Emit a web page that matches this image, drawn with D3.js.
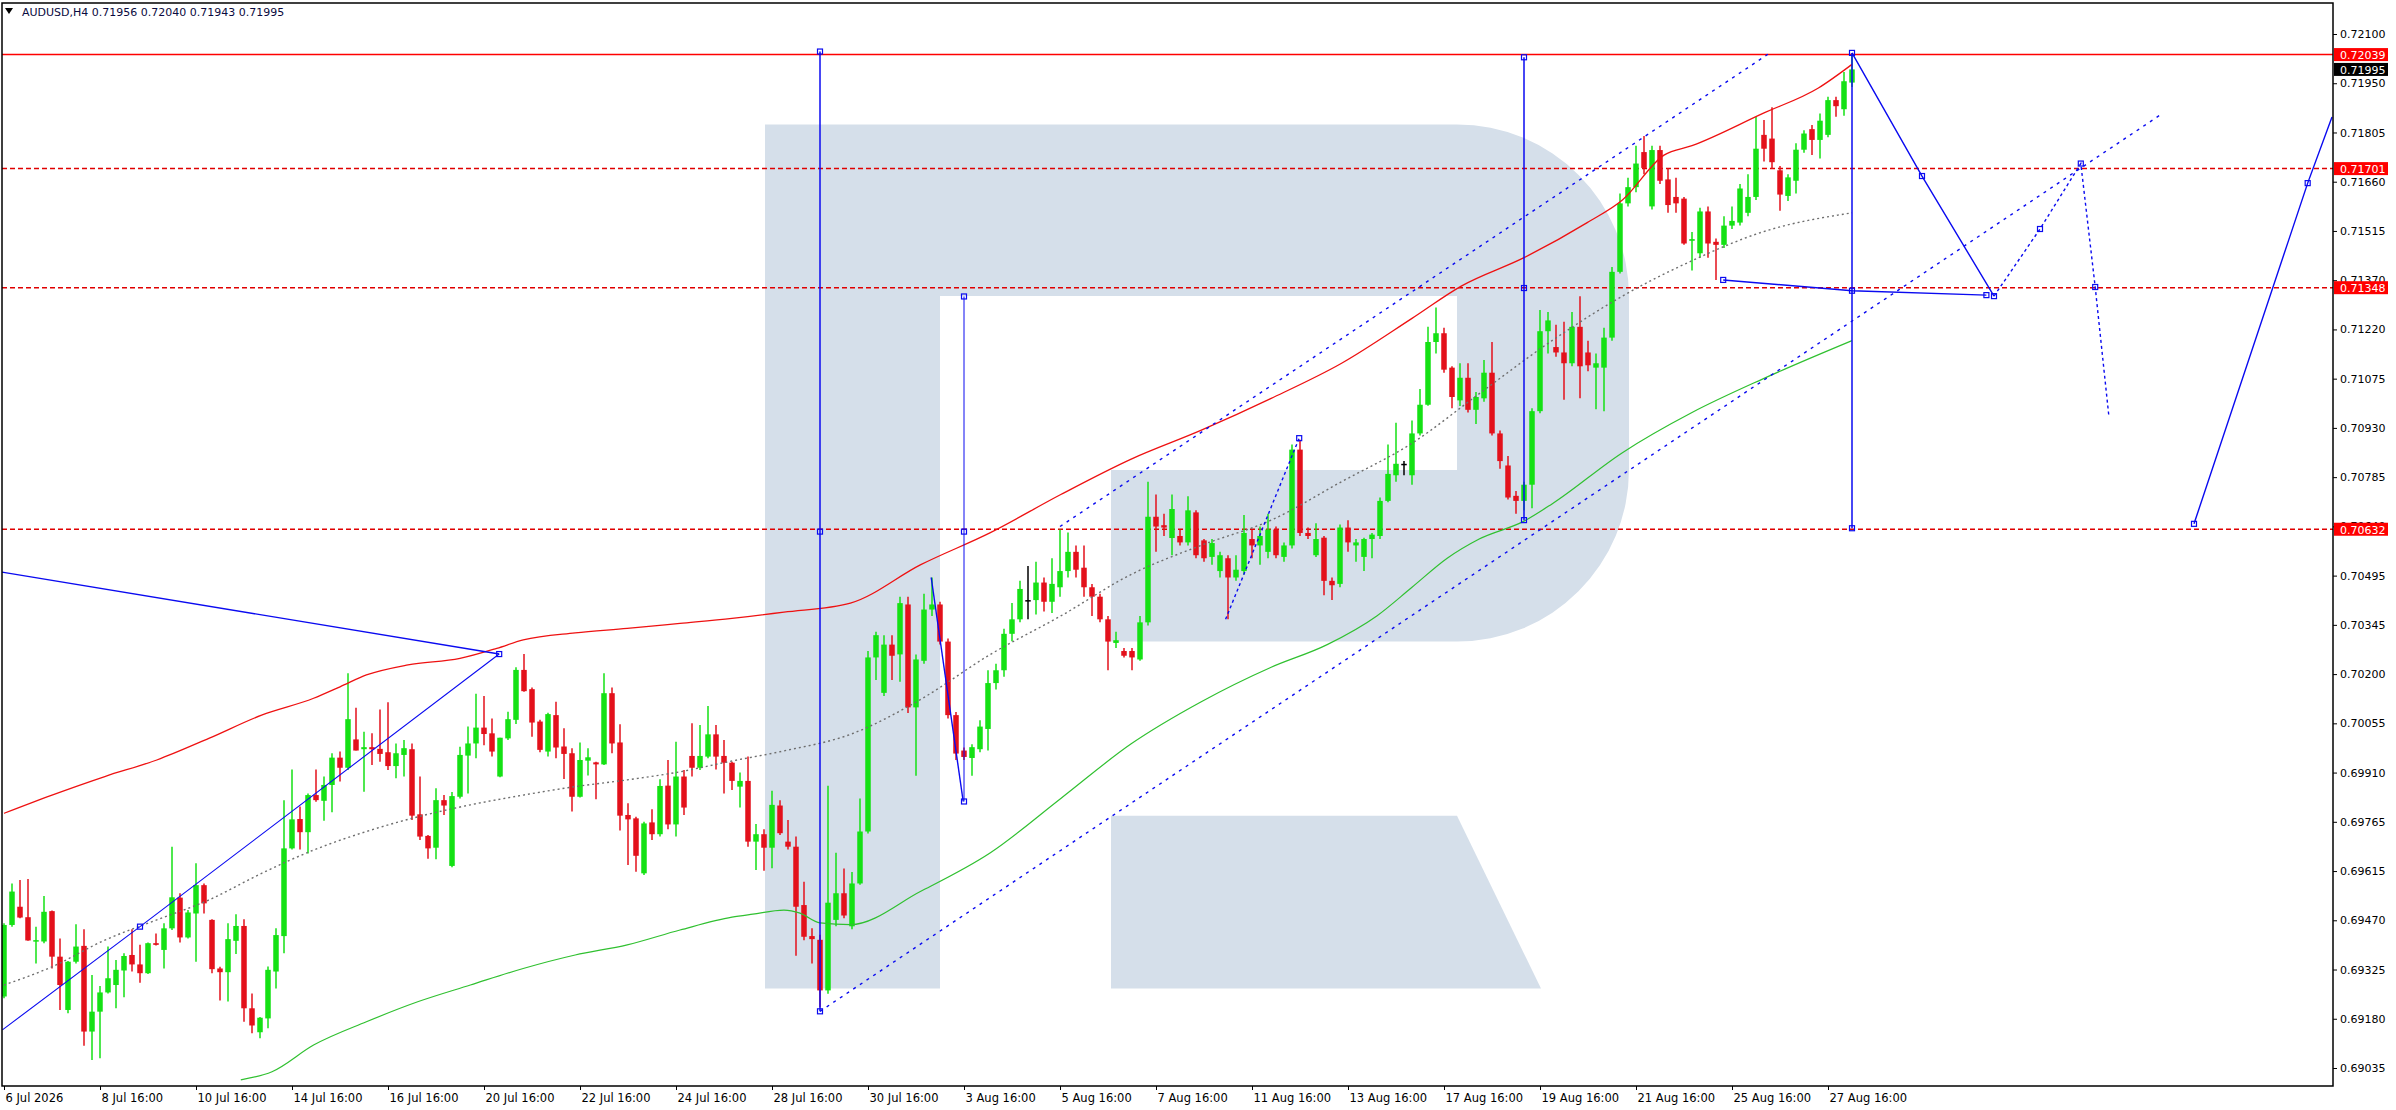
<!DOCTYPE html>
<html>
<head>
<meta charset="utf-8">
<script src="https://cdn.jsdelivr.net/npm/d3@7"></script>
<style>
  body { margin: 0; background: #fff; }
  svg text { font-family: "DejaVu Sans", Tahoma, sans-serif; }
</style>
</head>
<body>
<script>
// AUDUSD H4 candles, bar 0 = 6 Jul 16:00
var opens = [
  0.69247,0.69459,0.69513,0.69482,0.69410,0.69410,0.69500,0.69365,0.69207,0.69350,
  0.69397,0.69143,0.69202,0.69259,0.69281,0.69324,0.69370,0.69342,0.69316,0.69405,
  0.69385,0.69449,0.69540,0.69422,0.69493,0.69577,0.69474,0.69330,0.69319,0.69412,
  0.69456,0.69212,0.69141,0.69182,0.69321,0.69426,0.69686,0.69773,0.69734,0.69844,
  0.69827,0.69874,0.69955,0.69925,0.70009,0.69980,0.69986,0.69981,0.69971,0.69930,
  0.69963,0.69980,0.69787,0.69723,0.69688,0.69829,0.69634,0.69839,0.69961,0.69997,
  0.70044,0.70027,0.69899,0.70012,0.70067,0.70215,0.70158,0.70062,0.69973,0.70081,
  0.69988,0.69968,0.69839,0.69946,0.69941,0.69935,0.70146,0.70000,0.69785,0.69775,
  0.69612,0.69763,0.69728,0.69872,0.69757,0.69899,0.69960,0.69925,0.69958,0.70024,
  0.69960,0.69940,0.69869,0.69886,0.69706,0.69728,0.69688,0.69813,0.69706,0.69691,
  0.69518,0.69426,0.69415,0.69265,0.69474,0.69553,0.69455,0.69582,0.69736,0.70252,
  0.70147,0.70290,0.70261,0.70409,0.70104,0.70242,0.70394,0.70409,0.70299,0.70081,
  0.69976,0.69954,0.69980,0.70040,0.70176,0.70214,0.70322,0.70365,0.70422,0.70422,
  0.70474,0.70417,0.70460,0.70508,0.70565,0.70518,0.70460,0.70432,0.70365,0.70295,
  0.70271,0.70271,0.70246,0.70356,0.70669,0.70644,0.70606,0.70612,0.70593,0.70682,
  0.70599,0.70550,0.70508,0.70546,0.70489,0.70508,0.70603,0.70584,0.70565,0.70631,
  0.70550,0.70584,0.70868,0.70621,0.70555,0.70607,0.70479,0.70470,0.70637,0.70584,
  0.70550,0.70603,0.70612,0.70716,0.70792,0.70826,0.70792,0.70916,0.71001,0.71187,
  0.71213,0.71111,0.71014,0.71081,0.70986,0.71020,0.71096,0.70916,0.70821,0.70731,
  0.70716,0.70764,0.70982,0.71219,0.71172,0.71156,0.71124,0.71232,0.71156,0.71111,
  0.71111,0.71200,0.71395,0.71598,0.71646,0.71750,0.71589,0.71756,0.71669,0.71617,
  0.71612,0.71487,0.71450,0.71574,0.71484,0.71475,0.71532,0.71541,0.71570,0.71617,
  0.71801,0.71790,0.71696,0.71620,0.71665,0.71757,0.71818,0.71786,0.71801,0.71904,
  0.71877,0.71956
];
var highs = [
  0.69464,0.69582,0.69592,0.69595,0.69454,0.69545,0.69502,0.69419,0.69352,0.69461,
  0.69446,0.69311,0.69278,0.69395,0.69355,0.69375,0.69446,0.69400,0.69407,0.69434,
  0.69464,0.69691,0.69553,0.69503,0.69642,0.69582,0.69476,0.69335,0.69464,0.69491,
  0.69476,0.69256,0.69186,0.69336,0.69449,0.69829,0.69920,0.69810,0.69849,0.69920,
  0.69899,0.69968,0.69973,0.70205,0.70103,0.70032,0.70027,0.70098,0.70119,0.69997,
  0.70007,0.69997,0.69899,0.69726,0.69864,0.69844,0.69853,0.69987,0.70047,0.70144,
  0.70138,0.70071,0.70014,0.70091,0.70223,0.70262,0.70163,0.70067,0.70088,0.70121,
  0.70042,0.69983,0.70000,0.69983,0.69943,0.70205,0.70163,0.70054,0.69820,0.69780,
  0.69765,0.69802,0.69891,0.69948,0.70002,0.69918,0.70057,0.70052,0.70108,0.70052,
  0.70007,0.69943,0.69911,0.69958,0.69758,0.69743,0.69857,0.69829,0.69770,0.69721,
  0.69587,0.69449,0.69430,0.69872,0.69673,0.69626,0.69616,0.69834,0.70271,0.70328,
  0.70318,0.70318,0.70432,0.70432,0.70261,0.70441,0.70489,0.70417,0.70308,0.70090,
  0.69985,0.69995,0.70066,0.70214,0.70233,0.70337,0.70413,0.70479,0.70523,0.70536,
  0.70489,0.70546,0.70631,0.70622,0.70584,0.70584,0.70470,0.70441,0.70375,0.70328,
  0.70280,0.70280,0.70375,0.70773,0.70735,0.70678,0.70735,0.70631,0.70730,0.70688,
  0.70603,0.70603,0.70565,0.70555,0.70555,0.70674,0.70631,0.70640,0.70678,0.70640,
  0.70593,0.70883,0.70897,0.70637,0.70650,0.70612,0.70489,0.70646,0.70659,0.70603,
  0.70607,0.70621,0.70726,0.70883,0.70948,0.70834,0.70954,0.71048,0.71232,0.71289,
  0.71229,0.71115,0.71124,0.71124,0.71039,0.71134,0.71187,0.70925,0.70849,0.70745,
  0.70773,0.70991,0.71282,0.71276,0.71238,0.71247,0.71276,0.71323,0.71191,0.71153,
  0.71229,0.71409,0.71627,0.71674,0.71769,0.71798,0.71769,0.71769,0.71703,0.71674,
  0.71617,0.71513,0.71585,0.71589,0.71494,0.71560,0.71589,0.71655,0.71684,0.71854,
  0.71845,0.71883,0.71709,0.71684,0.71776,0.71815,0.71830,0.71864,0.71914,0.71914,
  0.71987,0.72040
];
var lows = [
  0.69242,0.69454,0.69479,0.69412,0.69345,0.69405,0.69330,0.69207,0.69197,0.69345,
  0.69101,0.69059,0.69064,0.69256,0.69212,0.69245,0.69321,0.69288,0.69314,0.69398,
  0.69330,0.69444,0.69407,0.69419,0.69350,0.69493,0.69316,0.69235,0.69232,0.69373,
  0.69172,0.69138,0.69123,0.69153,0.69271,0.69375,0.69683,0.69683,0.69671,0.69824,
  0.69768,0.69793,0.69884,0.69918,0.69976,0.69854,0.69933,0.69943,0.69918,0.69894,
  0.69899,0.69770,0.69711,0.69655,0.69654,0.69785,0.69630,0.69834,0.69849,0.69953,
  0.69992,0.69958,0.69897,0.70007,0.70055,0.70150,0.70017,0.69971,0.69958,0.69953,
  0.69892,0.69795,0.69837,0.69902,0.69832,0.69933,0.69968,0.69739,0.69637,0.69617,
  0.69607,0.69711,0.69721,0.69743,0.69721,0.69785,0.69899,0.69918,0.69953,0.69920,
  0.69849,0.69859,0.69807,0.69691,0.69622,0.69620,0.69627,0.69726,0.69683,0.69368,
  0.69414,0.69345,0.69215,0.69255,0.69455,0.69479,0.69446,0.69578,0.69730,0.70185,
  0.70138,0.70185,0.70180,0.70087,0.69901,0.70233,0.70375,0.70290,0.70071,0.69948,
  0.69948,0.69901,0.69971,0.69976,0.70157,0.70195,0.70300,0.70356,0.70365,0.70379,
  0.70388,0.70384,0.70432,0.70489,0.70489,0.70432,0.70375,0.70356,0.70214,0.70280,
  0.70252,0.70214,0.70242,0.70347,0.70565,0.70612,0.70555,0.70584,0.70584,0.70546,
  0.70536,0.70527,0.70489,0.70365,0.70479,0.70498,0.70546,0.70527,0.70546,0.70546,
  0.70536,0.70575,0.70612,0.70603,0.70550,0.70436,0.70422,0.70460,0.70565,0.70536,
  0.70508,0.70546,0.70603,0.70712,0.70773,0.70792,0.70764,0.70910,0.70998,0.71153,
  0.71096,0.70991,0.70997,0.70978,0.70944,0.71010,0.70910,0.70811,0.70720,0.70678,
  0.70688,0.70694,0.70976,0.71153,0.71143,0.71016,0.71115,0.71020,0.71100,0.70988,
  0.70982,0.71191,0.71390,0.71589,0.71631,0.71684,0.71580,0.71655,0.71570,0.71570,
  0.71475,0.71399,0.71437,0.71437,0.71371,0.71466,0.71522,0.71532,0.71560,0.71608,
  0.71722,0.71700,0.71576,0.71605,0.71627,0.71748,0.71741,0.71731,0.71794,0.71855,
  0.71858,0.71943
];
var closes = [
  0.69459,0.69558,0.69481,0.69413,0.69414,0.69498,0.69365,0.69281,0.69350,0.69395,
  0.69143,0.69202,0.69259,0.69301,0.69326,0.69367,0.69342,0.69316,0.69405,0.69400,
  0.69449,0.69541,0.69422,0.69496,0.69577,0.69523,0.69328,0.69319,0.69417,0.69456,
  0.69212,0.69161,0.69184,0.69326,0.69429,0.69686,0.69772,0.69734,0.69844,0.69829,
  0.69874,0.69955,0.69925,0.70069,0.69976,0.69986,0.69980,0.69966,0.69930,0.69968,
  0.69983,0.69783,0.69721,0.69686,0.69829,0.69813,0.69841,0.69963,0.69997,0.70044,
  0.70025,0.69973,0.70014,0.70069,0.70215,0.70152,0.70059,0.69978,0.70084,0.69985,
  0.69966,0.69839,0.69948,0.69956,0.69935,0.70146,0.69997,0.69783,0.69772,0.69664,
  0.69760,0.69728,0.69871,0.69757,0.69899,0.69807,0.69925,0.69960,0.70024,0.69958,
  0.69940,0.69886,0.69886,0.69706,0.69728,0.69688,0.69815,0.69731,0.69691,0.69513,
  0.69424,0.69417,0.69265,0.69525,0.69553,0.69487,0.69582,0.69736,0.70252,0.70318,
  0.70290,0.70257,0.70413,0.70104,0.70246,0.70394,0.70409,0.70299,0.70081,0.69967,
  0.69957,0.69986,0.70047,0.70176,0.70214,0.70322,0.70365,0.70455,0.70422,0.70474,
  0.70417,0.70470,0.70508,0.70565,0.70512,0.70460,0.70432,0.70365,0.70299,0.70303,
  0.70257,0.70252,0.70356,0.70669,0.70640,0.70637,0.70692,0.70593,0.70688,0.70555,
  0.70546,0.70591,0.70555,0.70489,0.70512,0.70621,0.70584,0.70612,0.70631,0.70555,
  0.70584,0.70868,0.70621,0.70612,0.70603,0.70479,0.70466,0.70637,0.70593,0.70593,
  0.70603,0.70616,0.70716,0.70796,0.70826,0.70826,0.70916,0.71001,0.71187,0.71213,
  0.71105,0.71024,0.71081,0.70986,0.71024,0.71096,0.70916,0.70834,0.70726,0.70716,
  0.70764,0.70982,0.71219,0.71251,0.71156,0.71124,0.71232,0.71115,0.71118,0.71124,
  0.71200,0.71395,0.71598,0.71646,0.71716,0.71703,0.71756,0.71665,0.71593,0.71598,
  0.71479,0.71492,0.71574,0.71479,0.71475,0.71532,0.71546,0.71642,0.71617,0.71760,
  0.71760,0.71720,0.71624,0.71675,0.71757,0.71805,0.71786,0.71843,0.71904,0.71886,
  0.71960,0.71995
];

// moving averages: [bar, price]
var maRed = [[0,0.69790],[6,0.69844],[12.6,0.69899],[19.1,0.69948],[25.6,0.70012],[32.2,0.70081],
  [38.7,0.70131],[42,0.70165],[45.3,0.70200],[50.5,0.70230],[57,0.70249],[61.6,0.70279],
  [64.9,0.70304],[71.4,0.70325],[77.9,0.70338],[84.5,0.70353],[91,0.70368],[97.5,0.70386],
  [105.8,0.70413],[114.6,0.70527],[123.3,0.70622],[132.1,0.70735],[140.9,0.70840],
  [149.6,0.70925],[158.4,0.71020],[167.2,0.71124],[176,0.71257],[182.1,0.71352],[190,0.71437],
  [197.9,0.71541],[202.3,0.71608],[207.5,0.71741],[211,0.71769],[219.8,0.71864],[226.8,0.71940],[231,0.72010]];
var maGreen = [[29.6,0.69000],[33.5,0.69024],[38.7,0.69103],[45.3,0.69172],[51.8,0.69232],
  [58.3,0.69281],[64.9,0.69330],[71.4,0.69370],[77.9,0.69400],[84.5,0.69444],[91,0.69482],
  [93.6,0.69491],[97.5,0.69503],[99.5,0.69494],[102,0.69465],[105.8,0.69460],[114.6,0.69559],
  [123.3,0.69673],[132.1,0.69834],[140.9,0.69996],[149.6,0.70120],[158.4,0.70223],
  [165.4,0.70290],[171.6,0.70375],[176,0.70460],[180.4,0.70546],[184.4,0.70603],[190,0.70656],
  [193.5,0.70707],[202.3,0.70859],[211,0.70978],[219.8,0.71077],[231,0.71191]];
var maGray = [[0,0.69281],[6,0.69335],[12.6,0.69414],[19.1,0.69474],[25.6,0.69533],[32.2,0.69612],
  [38.7,0.69681],[45.3,0.69736],[51.8,0.69780],[58.3,0.69815],[64.9,0.69844],[71.4,0.69869],
  [77.9,0.69889],[84.5,0.69913],[91,0.69945],[97.5,0.69975],[105.8,0.70024],[114.6,0.70128],
  [123.3,0.70261],[132.1,0.70375],[140.9,0.70498],[149.6,0.70584],[158.4,0.70659],
  [167.2,0.70773],[176,0.70887],[184.7,0.71039],[193.5,0.71191],[202.3,0.71323],
  [211,0.71428],[219.8,0.71513],[231,0.71570]];

// horizontal levels
var levelSolid = 0.72039;
var levelsDashed = [0.71701, 0.71348, 0.70632];
var bidPrice = 0.71995;

// axis labels
var priceLabels = ["0.72100","0.71950","0.71805","0.71660","0.71515","0.71370","0.71220",
  "0.71075","0.70930","0.70785","0.70640","0.70495","0.70345","0.70200","0.70055","0.69910",
  "0.69765","0.69615","0.69470","0.69325","0.69180","0.69035"];
var dateLabels = ["6 Jul 2026","8 Jul 16:00","10 Jul 16:00","14 Jul 16:00","16 Jul 16:00",
  "20 Jul 16:00","22 Jul 16:00","24 Jul 16:00","28 Jul 16:00","30 Jul 16:00","3 Aug 16:00",
  "5 Aug 16:00","7 Aug 16:00","11 Aug 16:00","13 Aug 16:00","17 Aug 16:00","19 Aug 16:00",
  "21 Aug 16:00","25 Aug 16:00","27 Aug 16:00"];
var dateBars = [0,12,24,36,48,60,72,84,96,108,120,132,144,156,168,180,192,204,216,228];

// analyst drawings: [bar, price]
var lineFromLeft = [[-0.25,0.70505],[61.9,0.70262]];
var lineRising = [[-0.2,0.69148],[17,0.69454],[61.9,0.70262]];
var vertLines = [
  {bar:102, pts:[0.72048,0.70625,0.69203], w:1.5},
  {bar:120, pts:[0.71322,0.70625,0.69825], w:1},
  {bar:190, pts:[0.72031,0.71347,0.70659], w:1.5},
  {bar:231, pts:[0.72044,0.71339,0.70635], w:1.5}
];
var zigSmall = [[115.9,0.70489],[119.9,0.69825]];
var dotSmall = [[152.7,0.70365],[161.9,0.70902]];
var channelLow = [[102,0.69203],[269.4,0.71858]];
var channelHigh = [[132,0.70640],[221,0.72048]];
var supportLine = [[214.9,0.71371],[231,0.71339],[247.8,0.71326]];
var fcastSolid1 = [[231,0.72044],[239.75,0.71679],[248.75,0.71323]];
var fcastDotted = [[248.75,0.71323],[254.5,0.71522],[259.6,0.71716],[261.4,0.71350],[263.1,0.70969]];
var fcastSolid2 = [[273.75,0.70648],[287.96,0.71658],[291,0.71854]];

var title = "AUDUSD,H4  0.71956 0.72040 0.71943 0.71995";

//画布
var width = 2396, height = 1110;
var frame = {left: 2, top: 3, right: 2333, bottom: 1086};

var svg = d3.select("body").append("svg")
  .attr("width", width)
  .attr("height", height);

var x = d3.scaleLinear().domain([0, 291]).range([4, 2332]);
var y = d3.scaleLinear().domain([0.69035, 0.72100]).range([1068, 34]);

svg.append("defs").append("clipPath").attr("id", "clip")
  .append("rect")
  .attr("x", frame.left).attr("y", frame.top)
  .attr("width", frame.right - frame.left).attr("height", frame.bottom - frame.top);

var g = svg.append("g").attr("clip-path", "url(#clip)");

// watermark "R"
g.append("path")
  .attr("d", "M765,124.5H1457A172,172 0 0 1 1629,296.5V470A172,172 0 0 1 1457,641.6H1111V470H1457V296H940V988.5H765Z")
  .attr("fill", "#d5dfea");
g.append("path")
  .attr("d", "M1111,815.7H1457L1541,988.5H1111Z")
  .attr("fill", "#d5dfea");

// horizontal levels
g.append("line")
  .attr("x1", frame.left).attr("x2", frame.right)
  .attr("y1", y(levelSolid)).attr("y2", y(levelSolid))
  .attr("stroke", "#ff0000").attr("stroke-width", 1.5);
g.selectAll(".lvl").data(levelsDashed).join("line")
  .attr("class", "lvl")
  .attr("x1", frame.left).attr("x2", frame.right)
  .attr("y1", d => y(d)).attr("y2", d => y(d))
  .attr("stroke", "#e00000").attr("stroke-width", 1.5)
  .attr("stroke-dasharray", "5,3");

// candles
var bars = d3.range(opens.length);
var bw = 5.5;
function candleColor(i) {
  if (closes[i] > opens[i]) return "#14e114";
  if (closes[i] < opens[i]) return "#e3111b";
  return "#000000";
}
g.selectAll(".wick").data(bars).join("line")
  .attr("class", "wick")
  .attr("x1", i => x(i)).attr("x2", i => x(i))
  .attr("y1", i => y(highs[i])).attr("y2", i => y(lows[i]))
  .attr("stroke", candleColor).attr("stroke-width", 1.5);
g.selectAll(".body").data(bars).join("rect")
  .attr("class", "body")
  .attr("x", i => x(i) - bw / 2)
  .attr("width", bw)
  .attr("y", i => y(Math.max(opens[i], closes[i])))
  .attr("height", i => Math.max(1.5, Math.abs(y(opens[i]) - y(closes[i]))))
  .attr("fill", candleColor);

// moving averages
var maLine = d3.line().x(d => x(d[0])).y(d => y(d[1])).curve(d3.curveMonotoneX);
g.append("path").attr("d", maLine(maGray)).attr("fill", "none")
  .attr("stroke", "#6e6e6e").attr("stroke-width", 1.4).attr("stroke-dasharray", "2,3");
g.append("path").attr("d", maLine(maGreen)).attr("fill", "none")
  .attr("stroke", "#30c030").attr("stroke-width", 1.2);
g.append("path").attr("d", maLine(maRed)).attr("fill", "none")
  .attr("stroke", "#ee1111").attr("stroke-width", 1.3);

// drawings
var blue = "#0a0af0";
var straight = d3.line().x(d => x(d[0])).y(d => y(d[1]));
function drawLine(pts, w, dash) {
  var p = g.append("path").attr("d", straight(pts)).attr("fill", "none")
    .attr("stroke", blue).attr("stroke-width", w);
  if (dash) p.attr("stroke-dasharray", dash);
}
function drawMarks(pts) {
  g.selectAll(null).data(pts).join("rect")
    .attr("x", d => x(d[0]) - 2.5).attr("y", d => y(d[1]) - 2.5)
    .attr("width", 5).attr("height", 5)
    .attr("fill", "none").attr("stroke", blue).attr("stroke-width", 1.2);
}
drawLine(lineFromLeft, 1.4);
drawLine(lineRising, 1.1);
drawMarks([lineRising[1], lineRising[2]]);
vertLines.forEach(function (v) {
  var pts = v.pts.map(p => [v.bar, p]);
  drawLine([pts[0], pts[2]], v.w);
  drawMarks(pts);
});
drawLine(zigSmall, 1.4);
drawLine(dotSmall, 1.4, "3,3");
drawMarks([dotSmall[1]]);
drawLine(channelLow, 1.4, "3,5");
drawLine(channelHigh, 1.4, "3,5");
drawLine(supportLine, 1.4);
drawMarks([supportLine[0], supportLine[2]]);
drawLine(fcastSolid1, 1.4);
drawMarks(fcastSolid1.slice(1));
drawLine(fcastDotted, 1.4, "3,3");
drawMarks(fcastDotted.slice(1, 4));
drawLine(fcastSolid2, 1.4);
drawMarks(fcastSolid2.slice(0, 2));

// frame
svg.append("rect")
  .attr("x", frame.left).attr("y", frame.top)
  .attr("width", frame.right - frame.left).attr("height", frame.bottom - frame.top)
  .attr("fill", "none").attr("stroke", "#000").attr("stroke-width", 1.5);

// right price axis
var priceTicks = priceLabels.map((d, k) => 0.721 + (0.69035 - 0.721) * k / (priceLabels.length - 1));
var axisR = svg.append("g")
  .attr("transform", `translate(${frame.right},0)`)
  .call(d3.axisRight(y).tickValues(priceTicks).tickFormat((d, k) => priceLabels[k]).tickSize(4).tickPadding(3));
axisR.select(".domain").remove();
axisR.selectAll("text").attr("font-size", 11).attr("fill", "#000");
axisR.selectAll("line").attr("stroke", "#000");

// bottom time axis
var axisB = svg.append("g")
  .attr("transform", `translate(0,${frame.bottom})`)
  .call(d3.axisBottom(x).tickValues(dateBars).tickFormat((d, k) => dateLabels[k]).tickSize(4).tickPadding(4));
axisB.select(".domain").remove();
axisB.selectAll("text").attr("font-size", 11.5).attr("fill", "#000")
  .attr("text-anchor", "start").attr("dx", 1);
axisB.selectAll("line").attr("stroke", "#000");

// price tags on the right
var tags = [
  {p: levelSolid, bg: "#ff0000"},
  {p: bidPrice, bg: "#000000"}
].concat(levelsDashed.map(p => ({p: p, bg: "#ff0000"})));
var tag = svg.selectAll(".tag").data(tags).join("g").attr("class", "tag")
  .attr("transform", d => `translate(${frame.right + 1},${y(d.p)})`);
tag.append("rect").attr("x", 0).attr("y", -6.5).attr("width", 54).attr("height", 13)
  .attr("fill", d => d.bg);
tag.append("text").attr("x", 6).attr("y", 4.5)
  .attr("font-size", 11).attr("fill", "#fff")
  .text(d => d.p.toFixed(5));

// title
svg.append("path").attr("d", "M5,8L13,8L9,14Z").attr("fill", "#000");
svg.append("text").attr("x", 22).attr("y", 16)
  .attr("font-size", 11).attr("fill", "#0a0a40")
  .text(title);
</script>
</body>
</html>
